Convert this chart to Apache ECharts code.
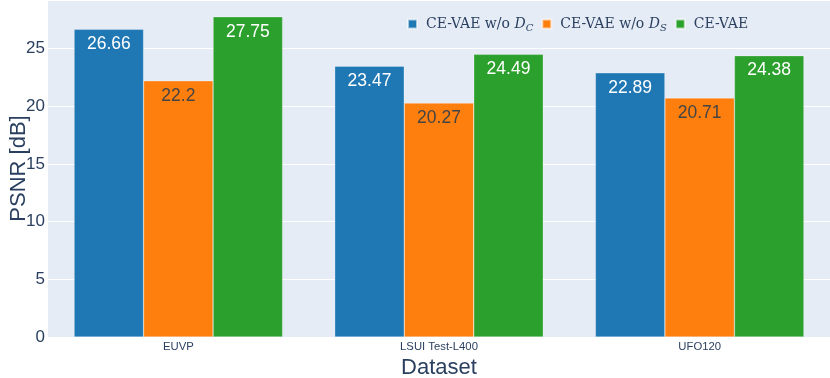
<!DOCTYPE html>
<html>
<head>
<meta charset="utf-8">
<script src="https://cdn.jsdelivr.net/npm/echarts@6/dist/echarts.min.js"></script>
<style>
html,body{margin:0;padding:0;background:#fff;}
#main{width:830px;height:378px;}
</style>
</head>
<body>
<div id="main"></div>
<script>
var datasets = ['EUVP', 'LSUI Test-L400', 'UFO120'];
var seriesNames = ['CE-VAE w/o D_C', 'CE-VAE w/o D_S', 'CE-VAE'];
var noDc = [26.66, 23.47, 22.89];
var noDs = [22.2, 20.27, 20.71];
var ceVae = [27.75, 24.49, 24.38];
var colors = ['#1f77b4', '#ff7f0e', '#2ca02c'];

var fontSans = '"Liberation Sans", Arial, sans-serif';
var fontSerif = '"DejaVu Serif", "Liberation Serif", serif';

function makeSeries(name, data, color, labelColor) {
	return {
		name: name,
		type: 'bar',
		data: data,
		barGap: 0,
		barCategoryGap: '20%',
		itemStyle: { color: color, borderColor: 'rgba(255,255,255,0.6)', borderWidth: 0.5 },
		label: {
			show: true,
			position: 'insideTop',
			distance: 6,
			color: labelColor,
			fontFamily: fontSans,
			fontSize: 17.5
		}
	};
}

var myChart = echarts.init(document.getElementById('main'));
var option = {
	backgroundColor: '#fff',
	animation: false,
	grid: {
		left: 48,
		right: 0,
		top: 0,
		bottom: 41,
		outerBoundsMode: 'none',
		containLabel: false,
		show: true,
		backgroundColor: '#E5ECF6',
		borderWidth: 0
	},
	legend: {
		left: 402,
		top: 12,
		icon: 'rect',
		itemWidth: 9,
		itemHeight: 9,
		itemGap: 8,
		data: seriesNames,
		formatter: function (name) {
			if (name == 'CE-VAE w/o D_C') return '{g|}{a|CE-VAE w/o }{i|D}{s|C}';
			if (name == 'CE-VAE w/o D_S') return '{g|}{a|CE-VAE w/o }{i|D}{s|S}';
			return '{g|}{a|CE-VAE}';
		},
		textStyle: {
			color: '#2a3f5f',
			rich: {
				g: { width: 4 },
				a: { fontFamily: fontSerif, fontSize: 14, color: '#2a3f5f' },
				i: { fontFamily: fontSerif, fontSize: 14, fontStyle: 'italic', color: '#2a3f5f' },
				s: { fontFamily: fontSerif, fontSize: 10, fontStyle: 'italic', color: '#2a3f5f', padding: [8, 0, 0, 0] }
			}
		}
	},
	xAxis: {
		type: 'category',
		data: datasets,
		name: 'Dataset',
		nameLocation: 'middle',
		nameGap: 19,
		nameTextStyle: { color: '#2a3f5f', fontFamily: fontSans, fontSize: 22 },
		axisLine: { show: false },
		axisTick: { show: false },
		axisLabel: { color: '#2a3f5f', fontFamily: fontSans, fontSize: 11.3, margin: 4 }
	},
	yAxis: {
		type: 'value',
		min: 0,
		max: 29.2,
		interval: 5,
		name: 'PSNR [dB]',
		nameLocation: 'middle',
		nameGap: 18,
		nameMoveOverlap: false,
		nameTextStyle: { color: '#2a3f5f', fontFamily: fontSans, fontSize: 22 },
		axisLine: { show: false },
		axisTick: { show: false },
		splitLine: { lineStyle: { color: '#fff', width: 1 } },
		axisLabel: {
			color: '#2a3f5f',
			fontFamily: fontSans,
			fontSize: 17,
			margin: 3,
			showMaxLabel: false,
			formatter: function (v) { return v % 5 == 0 ? v : ''; }
		}
	},
	series: [
		makeSeries(seriesNames[0], noDc, colors[0], '#fff'),
		makeSeries(seriesNames[1], noDs, colors[1], '#444'),
		makeSeries(seriesNames[2], ceVae, colors[2], '#fff')
	]
};
myChart.setOption(option);
</script>
</body>
</html>
